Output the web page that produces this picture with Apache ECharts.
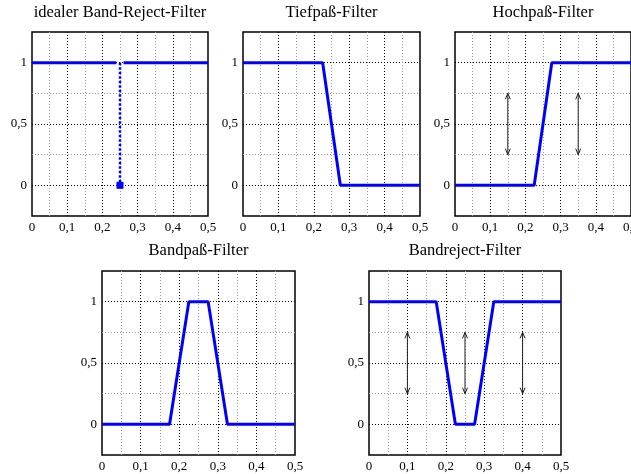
<!DOCTYPE html>
<html><head><meta charset="utf-8">
<script src="https://cdn.jsdelivr.net/npm/echarts@6/dist/echarts.min.js"></script>
<style>html,body{margin:0;padding:0;background:#fff}#c{width:631px;height:474px}</style>
</head><body><div id="c"></div>
<script>
// ---- data ----
const titles = ['idealer Band-Reject-Filter', 'Tiefpaß-Filter', 'Hochpaß-Filter', 'Bandpaß-Filter', 'Bandreject-Filter'];
const xTicks = [0, 0.1, 0.2, 0.3, 0.4, 0.5];
const yTicks = [0, 0.5, 1];

const idealLeftX = [0, 0.24];
const idealRightX = [0.26, 0.5];
const idealY = [1, 1];
const stemX = [0.25, 0.25];
const stemY = [1, 0];

const tiefX = [0, 0.225, 0.275, 0.5];
const tiefY = [1, 1, 0, 0];
const hochX = [0, 0.225, 0.275, 0.5];
const hochY = [0, 0, 1, 1];
const bpX = [0, 0.175, 0.225, 0.275, 0.325, 0.5];
const bpY = [0, 0, 1, 1, 0, 0];
const brX = [0, 0.175, 0.225, 0.275, 0.325, 0.5];
const brY = [1, 1, 0, 0, 1, 1];

const hochArrowX = [0.15, 0.35];
const brArrowX = [0.1, 0.25, 0.4];
const arrowLow = 0.25, arrowHigh = 0.75;

// ---- layout ----
const grids = [
  {left: 32, top: 32, width: 176, height: 184},
  {left: 243, top: 32, width: 177, height: 184},
  {left: 455, top: 32, width: 176, height: 184},
  {left: 102, top: 271, width: 193, height: 184},
  {left: 369, top: 271, width: 192, height: 184}
];
const FONT = 'Liberation Serif';
const zip = (xs, ys) => xs.map((x, i) => [x, ys[i]]);
const near = (v, s) => Math.abs(v / s - Math.round(v / s)) < 1e-6;
const fmt = v => String(Math.round(v * 10) / 10).replace('.', ',');

const option = {
  animation: false,
  backgroundColor: '#fff',
  title: titles.map((t, i) => ({
    text: t, left: grids[i].left + grids[i].width / 2, top: i < 3 ? 4 : 242,
    textAlign: 'center', padding: 0,
    textStyle: {fontFamily: FONT, fontSize: 16.5, fontWeight: 'normal', color: '#000'}
  })),
  grid: grids.map(g => Object.assign({show: true, borderColor: '#000', borderWidth: 1.5,
    backgroundColor: 'transparent', containLabel: false, outerBoundsMode: 'none'}, g)),
  xAxis: grids.map((g, i) => ({
    type: 'value', gridIndex: i, min: 0, max: 0.5, interval: 0.05,
    axisLine: {show: false}, axisTick: {show: false},
    axisLabel: {fontFamily: FONT, fontSize: 13, color: '#000', margin: 5,
      formatter: v => (near(v, 0.1) && xTicks.some(t => Math.abs(t - v) < 1e-6)) ? fmt(v) : ''},
    splitLine: {show: true, showMinLine: false, showMaxLine: false,
      lineStyle: {color: ['#999', '#000'], width: 1, type: [1, 2]}}
  })),
  yAxis: grids.map((g, i) => ({
    type: 'value', gridIndex: i, min: -0.25, max: 1.25, interval: 0.25,
    axisLine: {show: false}, axisTick: {show: false},
    axisLabel: {fontFamily: FONT, fontSize: 13, color: '#000', margin: 5,
      formatter: v => yTicks.some(t => Math.abs(t - v) < 1e-6) ? fmt(v) : ''},
    splitLine: {show: true, showMinLine: false, showMaxLine: false,
      lineStyle: {color: ['#000', '#999'], width: 1, type: [1, 2]}}
  })),
  series: []
};

const blueLine = (idx, data) => ({
  type: 'line', xAxisIndex: idx, yAxisIndex: idx, data: data, showSymbol: false, symbol: 'none',
  lineStyle: {color: '#0000ff', width: 3}, z: 5
});
option.series.push(blueLine(0, zip(idealLeftX, idealY)));
option.series.push(blueLine(0, zip(idealRightX, idealY)));
option.series.push({
  type: 'line', xAxisIndex: 0, yAxisIndex: 0, data: zip(stemX, stemY),
  symbol: (v, p) => p.dataIndex === 1 ? 'rect' : 'none', symbolSize: 7, showSymbol: true,
  itemStyle: {color: '#0000ff'},
  lineStyle: {color: '#0000ff', width: 2.5, type: [2.5, 2]}, z: 5
});
option.series.push(blueLine(1, zip(tiefX, tiefY)));
option.series.push(blueLine(2, zip(hochX, hochY)));
option.series.push(blueLine(3, zip(bpX, bpY)));
option.series.push(blueLine(4, zip(brX, brY)));

const arrowSeries = (idx, xs) => ({
  type: 'custom', xAxisIndex: idx, yAxisIndex: idx, z: 4,
  data: xs.map(x => [x, arrowLow, arrowHigh]),
  renderItem: (params, api) => {
    const p1 = api.coord([api.value(0), api.value(1)]);
    const p2 = api.coord([api.value(0), api.value(2)]);
    const hw = 2.5, hh = 6;
    const st = {stroke: '#222', lineWidth: 1, fill: null};
    return {type: 'group', children: [
      {type: 'line', shape: {x1: p1[0], y1: p1[1], x2: p2[0], y2: p2[1]}, style: st},
      {type: 'polyline', shape: {points: [[p2[0] - hw, p2[1] + hh], [p2[0], p2[1]], [p2[0] + hw, p2[1] + hh]]}, style: st},
      {type: 'polyline', shape: {points: [[p1[0] - hw, p1[1] - hh], [p1[0], p1[1]], [p1[0] + hw, p1[1] - hh]]}, style: st}
    ]};
  }
});
option.series.push(arrowSeries(2, hochArrowX));
option.series.push(arrowSeries(4, brArrowX));

echarts.init(document.getElementById('c'), null, {renderer: 'canvas'}).setOption(option);
</script></body></html>
